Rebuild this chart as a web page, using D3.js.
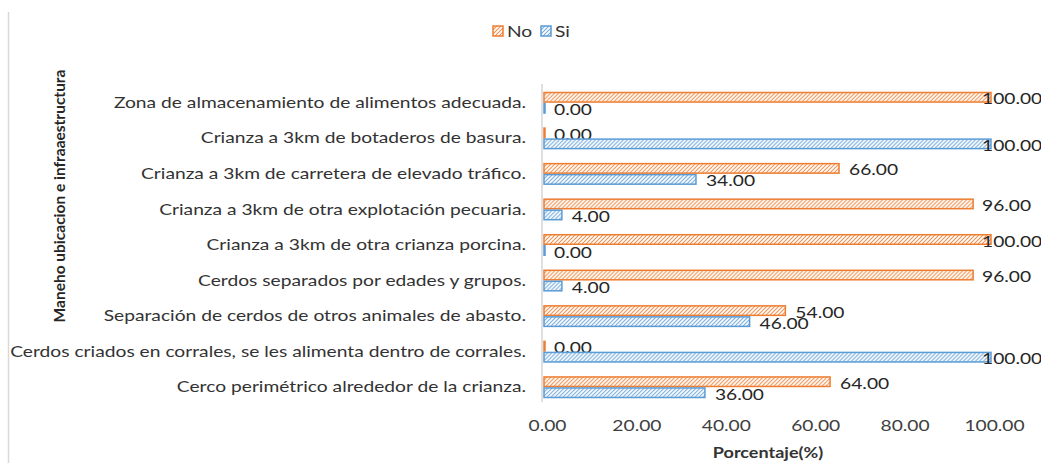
<!DOCTYPE html>
<html>
<head>
<meta charset="utf-8">
<script src="https://cdn.jsdelivr.net/npm/d3@7"></script>
<style>
  body { margin: 0; background: #fff; }
  text { font-family: Lato, "Open Sans", sans-serif; }
</style>
</head>
<body>
<div id="chart"></div>
<script>
// chart data, top row first
const categories = [
  "Zona de almacenamiento de alimentos adecuada.",
  "Crianza a 3km de botaderos de basura.",
  "Crianza a 3km  de carretera de elevado tráfico.",
  "Crianza a 3km de otra explotación pecuaria.",
  "Crianza a 3km de otra crianza porcina.",
  "Cerdos separados por edades y grupos.",
  "Separación de cerdos de otros animales de abasto.",
  "Cerdos criados en corrales, se les alimenta dentro de corrales.",
  "Cerco perimétrico alrededor de la crianza."
];
const seriesNames = ["No", "Si"];
const noValues = [100, 0, 66, 96, 100, 96, 54, 0, 64];
const siValues = [0, 100, 34, 4, 0, 4, 46, 100, 36];
const xTicks = [0, 20, 40, 60, 80, 100];

const W = 1041, H = 463;
const colors = { No: "#ED7D31", Si: "#5B9BD5" };
const stretch = 1.2; // the original picture is a bit wider than tall

const svg = d3.select("#chart").append("svg")
  .attr("width", W)
  .attr("height", H);

// hatch patterns like the excel "wide upward diagonal"
const defs = svg.append("defs");
seriesNames.forEach(s => {
  let p = defs.append("pattern")
    .attr("id", "hatch" + s)
    .attr("patternUnits", "userSpaceOnUse")
    .attr("width", 4)
    .attr("height", 4);
  p.append("rect").attr("width", 4).attr("height", 4).attr("fill", "#fff");
  p.append("path")
    .attr("d", "M-1,1 l2,-2 M0,4 l4,-4 M3,5 l2,-2")
    .attr("stroke", colors[s])
    .attr("stroke-width", 1.1)
    .attr("opacity", 0.85);
});

// left border line of the chart frame
svg.append("line")
  .attr("x1", 8.5).attr("x2", 8.5)
  .attr("y1", 12).attr("y2", H)
  .attr("stroke", "#d9d9d9")
  .attr("stroke-width", 1.5);

const x = d3.scaleLinear().domain([0, 100]).range([544, 991]);
const y = d3.scaleBand().domain(categories).range([85, 405])
  .paddingInner(0.38).paddingOuter(0.19);
const y1 = d3.scaleBand().domain(seriesNames).range([0, y.bandwidth()]);

// x axis tick labels only
const xAxis = d3.axisBottom(x).tickValues(xTicks)
  .tickFormat(d3.format(".2f")).tickSize(0).tickPadding(0);
const gx = svg.append("g").attr("transform", "translate(3,420)").call(xAxis);
gx.select(".domain").remove();
gx.selectAll("text")
  .attr("font-family", "Lato, sans-serif")
  .attr("font-size", 16)
  .attr("fill", "#404040");

// category labels
const yAxis = d3.axisLeft(y).tickSize(0).tickPadding(0);
const gy = svg.append("g").attr("transform", "translate(526,0)").call(yAxis);
gy.select(".domain").remove();
gy.selectAll("text")
  .attr("font-family", "Lato, sans-serif")
  .attr("font-size", 16)
  .attr("fill", "#333");

// vertical axis line
svg.append("line")
  .attr("x1", x(0) - 2).attr("x2", x(0) - 2)
  .attr("y1", 84).attr("y2", 402)
  .attr("stroke", "#bfbfbf")
  .attr("stroke-width", 1);

// bars
const rows = categories.map((c, i) => ({ cat: c, No: noValues[i], Si: siValues[i] }));
const groups = svg.selectAll("g.row")
  .data(rows)
  .enter()
  .append("g")
  .attr("class", "row")
  .attr("transform", d => `translate(0,${y(d.cat)})`);

const bars = groups.selectAll("g.bar")
  .data(d => seriesNames.map(s => ({ s: s, v: d[s] })))
  .enter()
  .append("g")
  .attr("class", "bar");

bars.append("rect")
  .attr("x", x(0))
  .attr("y", d => y1(d.s) + 0.75)
  .attr("width", d => Math.max(x(d.v) - x(0), 1))
  .attr("height", y1.bandwidth() - 1.5)
  .attr("fill", d => `url(#hatch${d.s})`)
  .attr("stroke", d => colors[d.s])
  .attr("stroke-width", 1.5);

// data labels
bars.append("text")
  .attr("x", d => Math.min(x(d.v) + 10, 982))
  .attr("y", d => y1(d.s) + y1.bandwidth() / 2 + 1.5)
  .attr("dy", "0.35em")
  .attr("font-size", 16)
  .attr("fill", "#262626")
  .text(d => d3.format(".2f")(d.v));

// legend
const legend = svg.append("g").attr("transform", "translate(493,26)");
const legendX = { No: 0, Si: 48 };
seriesNames.forEach(s => {
  let g = legend.append("g").attr("transform", `translate(${legendX[s]},0)`);
  g.append("rect")
    .attr("width", 10).attr("height", 10)
    .attr("fill", `url(#hatch${s})`)
    .attr("stroke", colors[s])
    .attr("stroke-width", 1.5);
  g.append("text")
    .attr("x", 14).attr("y", 5)
    .attr("dy", "0.35em")
    .attr("font-size", 16)
    .attr("fill", "#333")
    .text(s);
});

// axis titles
svg.append("text")
  .attr("x", 768).attr("y", 453)
  .attr("dy", "0.35em")
  .attr("text-anchor", "middle")
  .attr("font-size", 15)
  .attr("font-weight", "bold")
  .attr("fill", "#333")
  .text("Porcentaje(%)");

// stretch the horizontal texts so they are as wide as in the original
svg.selectAll("text").each(function() {
  let len = this.getComputedTextLength();
  d3.select(this)
    .attr("textLength", len * stretch)
    .attr("lengthAdjust", "spacingAndGlyphs");
});

svg.append("text")
  .attr("transform", "translate(60,196) rotate(-90)")
  .attr("dy", "0.35em")
  .attr("text-anchor", "middle")
  .attr("font-size", 15.5)
  .attr("font-weight", "bold")
  .attr("fill", "#262626")
  .text("Maneho ubicacion e infraaestructura");
</script>
</body>
</html>
